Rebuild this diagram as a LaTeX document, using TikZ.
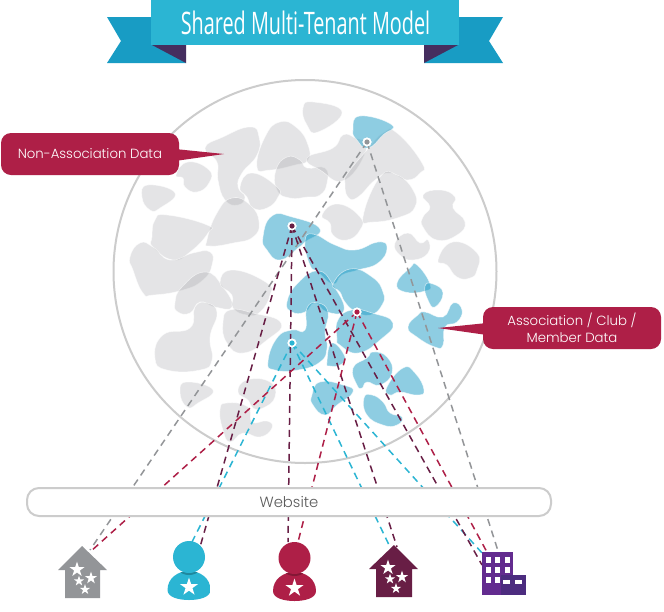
\documentclass[tikz,border=0pt]{standalone}
\usepackage{fontspec}
\setmainfont{Poppins}[UprightFont=* Light]
\newfontfamily\titlefont[FakeStretch=0.64]{Open Sans}
\definecolor{ribmain}{HTML}{2BB5D3}
\definecolor{ribtail}{HTML}{189CC4}
\definecolor{ribfold}{HTML}{452E5F}
\definecolor{crim}{HTML}{AE1F47}
\definecolor{maroon}{HTML}{681E45}
\definecolor{cyanp}{HTML}{2BB5D3}
\definecolor{greyh}{HTML}{939598}
\definecolor{purp}{HTML}{632B8F}
\definecolor{purpd}{HTML}{4C2C7F}
\definecolor{blobg}{HTML}{999AA0}
\definecolor{blobb}{HTML}{28A0C8}
\tikzset{
  gblob/.style={fill=blobg,fill opacity=.26,draw=white,draw opacity=.6,line width=.6pt},
  bblob/.style={fill=blobb,fill opacity=.52,draw=white,draw opacity=.6,line width=.6pt},
  link/.style={dash pattern=on 7pt off 5pt,line width=1.5pt},
  dot/.style={circle,fill=white,minimum size=9pt,inner sep=0pt},
  callout/.style={fill=crim,rounded corners=10pt},
  calltext/.style={text=white,font=\fontsize{13.3}{17}\selectfont,align=center},
}
\newcommand\gb[1]{\path[gblob] plot[smooth cycle,tension=.85] coordinates {#1};}
\newcommand\bb[1]{\path[bblob] plot[smooth cycle,tension=.85] coordinates {#1};}
\newcommand\wstar[3]{\fill[white,shift={(#1,#2)},scale=#3] (-90:1)--(-54:.382)--(-18:1)--(18:.382)--(54:1)--(90:.382)--(126:1)--(162:.382)--(198:1)--(234:.382)--cycle;}
\newcommand\personicon[4]{%
  \begin{scope}[shift={(#1,#2)}]
    \begin{scope}
      \clip (-21.5,33) .. controls (-21.5,21) and (-11,14) .. (0,14) .. controls (11,14) and (21.5,21) .. (21.5,33) .. controls (21.5,40) and (11,43) .. (0,43) .. controls (-11,43) and (-21.5,40) .. (-21.5,33) -- cycle;
      \fill[#3] (-22,13) rectangle (22,44);
      \fill[#4] (0,2) circle (16);
    \end{scope}
    \fill[#3] (0,0) circle (16);
    \wstar{0}{30}{9.5}
  \end{scope}}
\begin{document}
\begin{tikzpicture}[x=1pt,y=-1pt]
\useasboundingbox (0,0) rectangle (664,611);
\fill[white] (0,0) rectangle (664,611);
% big circle
\draw[color=black!20,line width=2pt] (305,271.5) circle (191.5);
% grey blobs
\gb{(205,148)(223,137)(250,127)(259,137)(257,155)(242,173)(238,187)(245,197)(238,205)(225,200)(218,180)(217,162)}
\gb{(257,167)(265,137)(280,122)(297,128)(308,145)(308,160)(295,165)(270,170)}
\gb{(300,160)(307,168)(325,168)(327,183)(320,195)(307,197)(290,198)(277,190)(276,170)(287,157)}
\gb{(240,187)(252,173)(277,187)(278,197)(267,208)(253,208)(247,197)}
\gb{(176,175)(188,162)(209,170)(209,183)(197,192)(185,187)(183,178)}
\gb{(142,197)(148,185)(175,193)(160,208)(150,210)}
\gb{(207,240)(217,213)(232,198)(250,205)(259,222)(253,237)(233,243)(210,246)}
\gb{(152,237)(155,220)(167,215)(207,225)(208,233)(190,252)(173,260)(153,247)}
\gb{(130,257)(140,243)(153,247)(170,260)(193,253)(210,252)(212,265)(203,280)(183,290)(153,295)(143,293)(133,270)}
\gb{(175,303)(182,287)(205,272)(223,287)(232,307)(215,307)(200,302)(190,313)(178,312)}
\gb{(220,283)(233,270)(267,283)(270,295)(260,312)(247,315)(233,308)(232,295)}
\gb{(223,323)(230,310)(253,313)(281,323)(267,340)(243,353)(227,343)}
\gb{(155,358)(163,335)(190,328)(195,307)(207,303)(217,313)(210,337)(212,360)(200,370)(167,370)}
\gb{(180,392)(187,382)(213,390)(198,403)(187,407)}
\gb{(238,392)(247,380)(270,382)(275,397)(263,408)(253,408)(248,400)}
\gb{(220,410)(227,403)(248,407)(252,422)(267,421)(272,428)(260,437)(243,433)(230,442)(223,430)}
\gb{(303,108)(313,102)(342,112)(318,132)(307,125)}
\gb{(307,158)(333,148)(343,135)(355,138)(367,147)(345,180)(320,170)}
\gb{(345,183)(348,173)(367,150)(383,133)(397,133)(422,163)(420,173)(407,180)(390,173)(375,180)(358,197)(348,197)}
\gb{(363,217)(380,177)(397,175)(413,190)(415,207)(400,217)(373,222)}
\gb{(322,215)(338,204)(360,217)(360,230)(347,240)(333,235)(330,223)}
\gb{(395,243)(408,233)(420,243)(428,240)(428,253)(413,260)(400,255)}
\gb{(423,195)(440,190)(455,197)(453,208)(465,222)(457,235)(437,240)(423,227)(423,217)(430,207)}
\gb{(438,260)(453,242)(477,253)(477,270)(470,278)(457,277)(447,265)}
% blue blobs
\bb{(353,130)(360,116)(392,125)(383,135)(368,148)(357,140)}
\bb{(263,237)(272,216)(292,217)(320,229)(305,242)(298,248)(280,260)(267,250)}
\bb{(305,242)(313,234)(335,245)(355,250)(378,242)(387,248)(378,263)(358,270)(342,275)(333,284)(318,272)(310,265)}
\bb{(287,302)(298,283)(318,271)(333,285)(344,310)(327,312)(315,303)(305,312)(292,312)}
\bb{(333,284)(350,269)(372,277)(383,292)(382,305)(370,315)(355,311)(345,302)(340,292)}
\bb{(268,362)(277,338)(292,330)(305,330)(307,308)(318,303)(328,312)(325,332)(327,348)(320,362)(298,370)(275,370)}
\bb{(337,338)(338,320)(352,310)(372,313)(393,323)(380,340)(358,353)(340,345)}
\bb{(327,362)(332,343)(345,357)(340,365)(330,366)}
\bb{(353,368)(367,358)(373,352)(387,357)(392,373)(380,385)(367,382)(362,388)(357,385)}
\bb{(387,387)(403,368)(415,373)(424,390)(417,395)(400,392)(390,395)}
\bb{(312,395)(320,382)(343,385)(353,392)(337,405)(325,415)(313,405)}
\bb{(364,398)(372,395)(383,402)(390,413)(402,417)(397,425)(383,425)(367,415)}
\bb{(397,283)(410,268)(417,265)(430,284)(425,291)(405,292)}
\bb{(425,286)(433,284)(443,293)(435,307)(428,300)}
\bb{(408,327)(418,315)(425,312)(443,317)(453,303)(462,310)(457,322)(445,327)(443,345)(435,347)(417,337)}
% named points
\node[dot] (dg) at (367,142) {};
\node[dot] (dm) at (292,226) {};
\node[dot] (dc) at (357,312) {};
\node[dot] (db) at (292,343) {};
\coordinate (h1a) at (90,550);
\coordinate (h1b) at (90,552);
\coordinate (p1a) at (192,542);
\coordinate (p1b) at (200,547);
\coordinate (p2a) at (288,542);
\coordinate (p2b) at (298,542);
\coordinate (h2a) at (390,547);
\coordinate (h2b) at (397,547);
\coordinate (b1) at (499,554);
\coordinate (b2) at (483,554);
\coordinate (b3) at (482,565);
\coordinate (b4) at (488,554);
% connectors
\draw[link,color=greyh] (dg.center) -- (h1a);
\draw[link,color=greyh] (dg.center) -- (b1);
\draw[link,color=cyanp] (db.center) -- (p1a);
\draw[link,color=cyanp] (db.center) -- (h2a);
\draw[link,color=cyanp] (db.center) -- (b2);
\draw[link,color=maroon] (dm.center) -- (p1b);
\draw[link,color=maroon] (dm.center) -- (p2a);
\draw[link,color=maroon] (dm.center) -- (h2b);
\draw[link,color=maroon] (dm.center) -- (b3);
\draw[link,color=crim] (dc.center) -- (h1b);
\draw[link,color=crim] (dc.center) -- (p2b);
\draw[link,color=crim] (dc.center) -- (b4);
% dots
\node[dot] at (dg) {}; \fill[greyh] (dg) circle (2.6);
\node[dot] at (dm) {}; \fill[maroon] (dm) circle (2.6);
\node[dot] at (dc) {}; \fill[crim] (dc) circle (2.6);
\node[dot] at (db) {}; \fill[cyanp] (db) circle (2.6);
% website bar
\node[draw=black!20,line width=2pt,fill=white,rounded corners=12pt,minimum width=524pt,minimum height=28pt,inner sep=0pt,text=black!65,font=\fontsize{14.8}{17}\selectfont] (site) at (289,502) {Website};
% ribbon
\fill[ribtail] (107,17)--(152,17)--(186,63)--(107,63)--(121,41)--cycle;
\fill[ribtail] (503,17)--(458,17)--(424,63)--(503,63)--(489,41)--cycle;
\fill[ribfold] (152,45)--(186,45)--(186,63)--cycle;
\fill[ribfold] (458,45)--(424,45)--(424,63)--cycle;
\fill[ribmain] (151,0) rectangle (459,45);
\node[text=white,font=\titlefont\fontsize{31}{34}\selectfont,inner sep=0pt] (title) at (305.5,22.5) {Shared Multi-Tenant Model};
% callouts
\fill[crim] (175,149)--(224,154)--(175,161)--cycle;
\fill[crim] (487,323)--(438,328)--(487,335)--cycle;
\fill[callout] (1,133) rectangle (179,175);
\fill[callout] (483,307) rectangle (661,349);
\node[calltext] (cl) at (90,154) {Non-Association Data};
\node[calltext] (cr) at (572,328) {Association / Club /\\Member Data};
% icons: grey house
\fill[greyh] (82,546)--(107,570)--(100,570)--(100,598)--(65,598)--(65,570)--(58,570)--cycle;
\wstar{77}{569.5}{8}\wstar{91}{578}{6.5}\wstar{79}{581}{5.5}\wstar{85}{589.5}{5.5}
% persons
\personicon{189}{557}{cyanp}{cyanp!75!black}
\personicon{294.5}{558}{crim}{crim!75!black}
% dark house
\fill[maroon] (394,545)--(418,569)--(412,569)--(412,597)--(376,597)--(376,569)--(369,569)--cycle;
\wstar{388}{567.5}{8}\wstar{402}{577}{6.5}\wstar{390}{579}{5.5}\wstar{396}{588.5}{5.5}
% building
\fill[purp] (482,552) rectangle (513,595);
\fill[purpd] (501,575) rectangle (526,595);
\foreach \xx/\yy in {486/557,495/557,505/557,486/567,495/567,505/567,486/577,495/577}
  \fill[white] (\xx,\yy) rectangle ++(5,6);
\fill[white] (503,580) rectangle (510,584);
\fill[white] (515,580) rectangle (522,584);
\end{tikzpicture}
\end{document}
